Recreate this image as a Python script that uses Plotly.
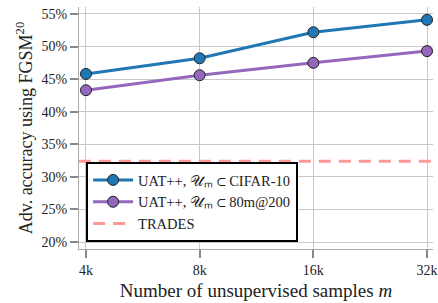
import plotly.graph_objects as go

samples = [4000, 8000, 16000, 32000]
tick_labels = ["4k", "8k", "16k", "32k"]
uat_cifar = [45.8, 48.2, 52.2, 54.1]
uat_80m = [43.3, 45.6, 47.5, 49.3]
trades = 32.4
y_ticks = [20, 25, 30, 35, 40, 45, 50, 55]

FONT = "Liberation Serif"
fig = go.Figure()
fig.add_trace(go.Scatter(
    x=samples, y=uat_cifar, mode="lines+markers",
    name="UAT++, 𝒰ₘ ⊂ CIFAR-10",
    line=dict(color="#1f77b4", width=3),
    marker=dict(size=11, color="#1f77b4", line=dict(color="#222222", width=1))))
fig.add_trace(go.Scatter(
    x=samples, y=uat_80m, mode="lines+markers",
    name="UAT++, 𝒰ₘ ⊂ 80m@200",
    line=dict(color="#9467bd", width=3),
    marker=dict(size=11, color="#9467bd", line=dict(color="#222222", width=1))))
fig.add_trace(go.Scatter(
    x=[3000, 40000], y=[trades, trades], mode="lines", name="TRADES",
    line=dict(color="#ff9896", width=3, dash="12px,8px")))

fig.update_layout(
    width=438, height=303,
    margin=dict(l=79, r=5, t=7, b=54),
    paper_bgcolor="white", plot_bgcolor="white",
    font=dict(family=FONT, size=14, color="#222222"),
    showlegend=True,
    legend=dict(x=0.02, y=0.029, xanchor="left", yanchor="bottom",
                bordercolor="black", borderwidth=2, bgcolor="white",
                font=dict(family=FONT, size=14.5), tracegroupgap=0,
                itemwidth=40),
)
fig.update_xaxes(
    type="log", range=[3.5836, 4.5210], automargin=False,
    tickvals=samples, ticktext=tick_labels,
    ticks="outside", ticklen=8, tickwidth=2, tickcolor="#888888",
    showgrid=True, gridcolor="#c8c8c8", gridwidth=1,
    showline=True, linecolor="#aaaaaa", linewidth=1,
    tickfont=dict(size=14),
    title=dict(text="Number of unsupervised samples <i>m</i>", font=dict(size=19), standoff=6),
)
fig.update_yaxes(
    range=[18.93, 56.07], automargin=False,
    tickvals=y_ticks, ticktext=[f"{v}%" for v in y_ticks],
    ticks="outside", ticklen=8, tickwidth=2, tickcolor="#888888",
    showgrid=True, gridcolor="#c8c8c8", gridwidth=1,
    showline=True, linecolor="#aaaaaa", linewidth=1,
    tickfont=dict(size=14), zeroline=False,
    title=dict(text="Adv. accuracy using FGSM<sup>20</sup>", font=dict(size=18), standoff=4),
)
fig.write_html("out.html", config={"displayModeBar": False},
               post_script="document.body.style.margin='0';document.body.style.overflow='hidden';")
